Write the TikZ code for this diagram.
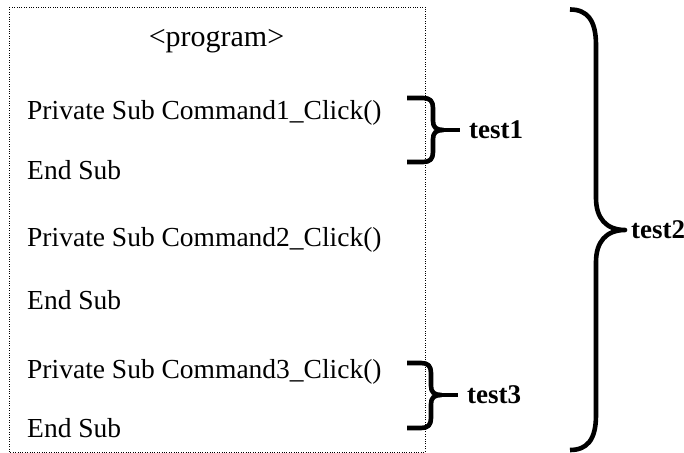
\documentclass[tikz,border=0pt]{standalone}
\usepackage{fontspec}
\setmainfont{Liberation Serif}
\begin{document}
\begin{tikzpicture}[x=1bp,y=-1bp,
  codetext/.style={anchor=base west,inner sep=0pt,font=\fontsize{27.5bp}{30bp}\selectfont},
  titletext/.style={anchor=base,inner sep=0pt,font=\fontsize{30bp}{33bp}\selectfont},
  bracelabel/.style={anchor=west,inner sep=0pt,font=\fontsize{27bp}{30bp}\selectfont\bfseries},
  bracepath/.style={line width=4.6bp,line join=round,line cap=butt},
  codebox/.style={draw,line width=0.9bp,dash pattern=on 0.9bp off 1.5bp}]
\useasboundingbox (0,0) rectangle (684,453);
\fill[white] (0,0) rectangle (684,453);
% frame
\draw[codebox] (9,7) rectangle (425,452);
% texts
\node[titletext] (prog) at (216.5,47) {<program>};
\node[codetext] (c1) at (27,120) {Private Sub Command1\_Click()};
\node[codetext] (e1) at (27,180) {End Sub};
\node[codetext] (c2) at (27,247) {Private Sub Command2\_Click()};
\node[codetext] (e2) at (27,310) {End Sub};
\node[codetext] (c3) at (27,378) {Private Sub Command3\_Click()};
\node[codetext] (e3) at (27,437) {End Sub};
% brace 1
\coordinate (b1tip) at (460,130);
\draw[bracepath] (407,98) -- (423,98) .. controls (430,98) and (433,101) .. (433,108) -- (433,121) .. controls (433,127) and (436,130) .. (443,130) .. controls (436,130) and (433,133) .. (433,139) -- (433,152) .. controls (433,159) and (430,162) .. (423,162) -- (407,162);
\draw[bracepath] (442,130) -- (b1tip);
\node[bracelabel] (t1) at (469,130) {test1};
% brace 3
\coordinate (b3tip) at (458,395);
\draw[bracepath] (407,363) -- (421,363) .. controls (428,363) and (431,366) .. (431,373) -- (431,386) .. controls (431,392) and (434,395) .. (441,395) .. controls (434,395) and (431,398) .. (431,404) -- (431,418) .. controls (431,425) and (428,428) .. (421,428) -- (407,428);
\draw[bracepath] (440,395) -- (b3tip);
\node[bracelabel] (t3) at (467,395) {test3};
% big brace
\coordinate (b2tip) at (625,230);
\draw[bracepath] (570,9.5) .. controls (587,9.5) and (596,20) .. (596,45) -- (596,198) .. controls (596,218) and (606,230) .. (b2tip) .. controls (606,230) and (596,242) .. (596,262) -- (596,415) .. controls (596,440) and (587,450) .. (570,450);
\node[bracelabel] (t2) at (631,230) {test2};
\end{tikzpicture}
\end{document}
